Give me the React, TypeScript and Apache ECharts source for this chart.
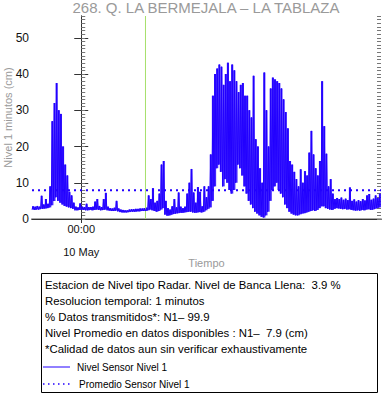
import React, { useEffect, useRef } from "react";
import * as echarts from "echarts";

const TITLE = "268. Q. LA BERMEJALA – LA TABLAZA";
const Y_NAME = "Nivel 1 minutos (cm)";
const X_NAME = "Tiempo";

// hours relative to 00:00 10 May; one sample every 10 minutes
const START_HOUR = -23 / 6;
const STEP_HOUR = 1 / 6;

// per-10-minute maximum of the 1-minute level (cm)
const levelHigh = [
  3.5, 3.4, 3.6, 3.4, 6.4, 4.0, 5.5, 4.2, 9.0, 27, 32, 37.5, 30, 29, 20, 15, 12, 7.5, 6.5, 4.5,
  3.4, 3.2, 4.3, 3.4, 3.3, 4.2, 3.3, 3.3, 3.4, 4.8, 5.5, 3.6, 3.3, 5.5, 7.2, 3.4, 3.0, 2.9, 3.1, 5.0,
  2.9, 2.6, 2.5, 2.4, 2.4, 2.6, 2.7, 2.7, 2.8, 2.8, 2.9, 2.9, 3.0, 3.1, 6.5, 5.5, 8.5, 4.5, 5.0, 7.0,
  15, 16, 5.0, 3.0, 2.6, 3.5, 5.5, 3.2, 7.3, 3.4, 3.0, 3.4, 7.0, 10, 13.8, 7.3, 4.5, 8.8, 7.5, 3.5,
  9.0, 6.0, 9.0, 17.8, 34, 40, 41.5, 42.6, 42, 37, 40, 43.1, 38, 42.6, 41, 38, 35, 37, 37.5, 34,
  34, 30, 28, 39.5, 22, 20, 14, 10, 40.4, 30, 20, 36, 39, 38.5, 38, 37.5, 36, 33, 29.5, 25,
  16, 15, 13, 11, 9, 13.7, 10, 13.2, 12, 18.3, 24.3, 17.8, 14, 12, 16, 38, 25.6, 18, 9, 11,
  7, 5.5, 5.8, 5.5, 5.9, 5.3, 5.6, 5.2, 8.7, 5.0, 5.4, 4.8, 5.2, 4.9, 5.5, 5.1, 6.5, 6.9, 5.3, 5.6,
  6.5, 5.8, 7.0,
];

// per-10-minute minimum of the 1-minute level (cm)
const levelLow = [
  2.6, 2.5, 2.6, 2.6, 2.8, 2.8, 2.9, 3.0, 3.2, 3.8, 5, 6, 5, 4.5, 4, 3.6, 3.4, 3.2, 3.0, 2.8,
  2.4, 2.4, 2.5, 2.5, 2.5, 2.4, 2.4, 2.5, 2.4, 2.5, 2.6, 2.5, 2.4, 2.5, 2.6, 2.4, 2.3, 2.2, 2.2, 2.3,
  2.1, 1.9, 1.8, 1.8, 1.8, 1.9, 2.0, 2.0, 2.0, 2.1, 2.1, 2.2, 2.2, 2.2, 2.4, 2.6, 2.4, 2.2, 2.0, 2.2,
  2.6, 3.0, 1.2, 0.9, 1.0, 1.2, 1.4, 1.5, 1.6, 1.7, 1.7, 1.8, 1.9, 2.0, 2.0, 1.8, 1.7, 1.8, 1.9, 1.8,
  2.0, 2.4, 2.8, 3.2, 5, 9, 14, 15, 13, 9, 11, 10, 8, 7, 8, 10, 15, 14, 12, 9,
  7, 5, 4, 3, 2, 1.5, 1.0, 0.6, 0.4, 1.0, 2, 5, 8, 9, 10, 8, 7, 6, 4, 3,
  2, 1.5, 1.2, 1.0, 1.0, 1.3, 1.5, 1.6, 1.8, 2.0, 2.2, 2.4, 2.2, 2.5, 3, 3.5, 3.5, 3.0, 2.8, 2.6,
  2.5, 2.8, 3.0, 2.9, 2.8, 2.7, 2.8, 2.6, 2.7, 2.5, 2.4, 2.3, 2.4, 2.3, 2.5, 2.4, 2.6, 2.7, 2.5, 2.6,
  2.8, 3.0, 3.2,
];

const MEAN_LEVEL = 7.9;
const MARKER_HOUR = 5.0;
const Y_MIN = 0;
const Y_MAX = 56;
const Y_LABEL_VALUES = [0, 10, 20, 30, 40, 50];
const X_TICK_HOURS = [0];
const X_TIME_LABELS = ["00:00"];
const X_DATE_LABELS = ["10 May"];

const INFO_LINES = [
  "Estacion de Nivel tipo Radar. Nivel de Banca Llena:  3.9 %",
  "Resolucion temporal: 1 minutos",
  "% Datos transmitidos*: N1– 99.9",
  "Nivel Promedio en datos disponibles : N1–  7.9 (cm)",
  "*Calidad de datos aun sin verificar exhaustivamente",
];
const LEGEND_LABELS = ["Nivel Sensor Nivel 1", "Promedio Sensor Nivel 1"];

const BLUE = "#2200ff";
const GREEN = "#a6e06a";
const FONT = "'Liberation Sans', Arial, Helvetica, sans-serif";

export default function App() {
  const ref = useRef<HTMLDivElement>(null);

  useEffect(() => {
    if (!ref.current) return;
    const chart = echarts.init(ref.current, undefined, { renderer: "svg" });

    const xMin = START_HOUR;
    const xMax = START_HOUR + levelHigh.length * STEP_HOUR;

    const zig: [number, number][] = [];
    const band: [number, number, number][] = [];
    for (let i = 0; i < levelHigh.length; i++) {
      const t = START_HOUR + i * STEP_HOUR;
      zig.push([t, levelLow[i]]);
      zig.push([t + STEP_HOUR / 2, levelHigh[i]]);
      band.push([t, levelLow[i], levelHigh[i]]);
    }

    const minorTicks: number[] = [];
    for (let v = Y_MIN; v <= Y_MAX; v++) minorTicks.push(v);

    const xFmt = (labels: string[]) => (v: number) => {
      const k = X_TICK_HOURS.findIndex((h) => Math.abs(h - v) < 1e-6);
      return k >= 0 ? labels[k] : "";
    };

    const axisCol = "#333";
    const baseX = {
      type: "value" as const,
      gridIndex: 0,
      min: xMin,
      max: xMax,
      splitLine: { show: false },
    };
    const baseY = {
      type: "value" as const,
      gridIndex: 0,
      min: Y_MIN,
      max: Y_MAX,
      splitLine: { show: false },
    };

    const infoTop = 285;
    const lineGap = 16;
    const infoFont = 11.4;
    const tickFont = 11;

    chart.setOption({
      animation: false,
      backgroundColor: "#fff",
      textStyle: { fontFamily: FONT },
      title: {
        text: TITLE,
        left: 206,
        textAlign: "center",
        top: 0,
        padding: 0,
        textStyle: { color: "#9a9a9a", fontSize: 15, fontWeight: "normal", fontFamily: FONT },
      },
      grid: { left: 32, right: 1, top: 16, bottom: 185, containLabel: false, outerBoundsMode: "none" },
      xAxis: [
        {
          ...baseX,
          position: "bottom",
          axisLine: { show: true, lineStyle: { color: axisCol, width: 1 } },
          axisTick: { show: true, inside: true, length: 4, customValues: X_TICK_HOURS, lineStyle: { color: axisCol } },
          axisLabel: {
            show: true,
            customValues: X_TICK_HOURS,
            formatter: xFmt(X_TIME_LABELS),
            margin: 4,
            color: "#111",
            fontSize: tickFont,
            fontFamily: FONT,
          },
        },
        {
          ...baseX,
          position: "bottom",
          offset: 22,
          name: X_NAME,
          nameLocation: "middle",
          nameGap: 16,
          nameMoveOverlap: false,
          nameTextStyle: { color: "#9a9a9a", fontSize: 11, fontFamily: FONT },
          axisLine: { show: true, lineStyle: { color: "#aaaaaa", width: 2 } },
          axisTick: { show: true, inside: false, length: 4, customValues: X_TICK_HOURS, lineStyle: { color: axisCol } },
          axisLabel: {
            show: true,
            customValues: X_TICK_HOURS,
            formatter: xFmt(X_DATE_LABELS),
            margin: 5,
            color: "#111",
            fontSize: tickFont,
            fontFamily: FONT,
          },
        },
        {
          ...baseX,
          position: "top",
          axisLine: { show: true, lineStyle: { color: axisCol, width: 1 } },
          axisTick: { show: true, inside: true, length: 4, customValues: X_TICK_HOURS, lineStyle: { color: axisCol } },
          axisLabel: { show: false },
        },
      ],
      yAxis: [
        {
          ...baseY,
          position: "left",
          name: Y_NAME,
          nameLocation: "middle",
          nameGap: 19,
          nameMoveOverlap: false,
          nameTextStyle: { color: "#9a9a9a", fontSize: 11, fontFamily: FONT },
          axisLine: { show: true, lineStyle: { color: axisCol, width: 1 } },
          axisTick: { show: true, inside: true, length: 7, customValues: Y_LABEL_VALUES, lineStyle: { color: axisCol } },
          axisLabel: { show: true, customValues: Y_LABEL_VALUES, margin: 3, color: "#111", fontSize: 12, fontFamily: FONT },
        },
        {
          ...baseY,
          position: "left",
          axisLine: { show: false },
          axisTick: { show: true, inside: true, length: 4, customValues: minorTicks, lineStyle: { color: "#777" } },
          axisLabel: { show: false },
        },
        {
          ...baseY,
          position: "right",
          axisLine: { show: true, lineStyle: { color: axisCol, width: 1 } },
          axisTick: { show: true, inside: true, length: 7, customValues: Y_LABEL_VALUES, lineStyle: { color: axisCol } },
          axisLabel: { show: false },
        },
        {
          ...baseY,
          position: "right",
          axisLine: { show: false },
          axisTick: { show: true, inside: true, length: 4, customValues: minorTicks, lineStyle: { color: "#777" } },
          axisLabel: { show: false },
        },
      ],
      series: [
        {
          type: "line",
          xAxisIndex: 0,
          yAxisIndex: 0,
          data: [
            [MARKER_HOUR, Y_MIN],
            [MARKER_HOUR, Y_MAX],
          ],
          showSymbol: false,
          symbol: "none",
          lineStyle: { color: GREEN, width: 1 },
          silent: true,
        },
        {
          type: "custom",
          xAxisIndex: 0,
          yAxisIndex: 0,
          data: band,
          silent: true,
          encode: { x: 0, y: [1, 2] },
          renderItem: (params: any, api: any) => {
            const t = api.value(0);
            const p0 = api.coord([t, api.value(1)]);
            const p1 = api.coord([t + STEP_HOUR, api.value(2)]);
            return {
              type: "rect",
              shape: { x: p0[0], y: p1[1], width: p1[0] - p0[0], height: p0[1] - p1[1] },
              style: { fill: BLUE, opacity: 0.85 },
            };
          },
        },
        {
          type: "line",
          name: LEGEND_LABELS[0],
          xAxisIndex: 0,
          yAxisIndex: 0,
          data: zig,
          showSymbol: false,
          symbol: "none",
          lineStyle: { color: BLUE, width: 1 },
          silent: true,
        },
        {
          type: "line",
          name: LEGEND_LABELS[1],
          xAxisIndex: 0,
          yAxisIndex: 0,
          data: [
            [xMin, MEAN_LEVEL],
            [xMax, MEAN_LEVEL],
          ],
          showSymbol: false,
          symbol: "none",
          lineStyle: { color: BLUE, width: 2, type: [2, 4] },
          silent: true,
        },
      ],
      graphic: [
        {
          type: "rect",
          shape: { x: 41.5, y: 273.5, width: 336, height: 119 },
          style: { fill: "#fff", stroke: "#000", lineWidth: 1 },
          z: 10,
        },
        ...INFO_LINES.map((t, k) => ({
          type: "text",
          x: 45,
          y: infoTop + k * lineGap,
          style: { text: t, fill: "#000", fontSize: infoFont, fontFamily: FONT, textVerticalAlign: "middle" },
          z: 11,
        })),
        {
          type: "line",
          shape: { x1: 43, y1: 367, x2: 70, y2: 367 },
          style: { stroke: BLUE, lineWidth: 1 },
          z: 11,
        },
        {
          type: "text",
          x: 77,
          y: 367,
          style: { text: LEGEND_LABELS[0], fill: "#000", fontSize: 10, fontFamily: FONT, textVerticalAlign: "middle" },
          z: 11,
        },
        {
          type: "line",
          shape: { x1: 43, y1: 384, x2: 70, y2: 384 },
          style: { stroke: BLUE, lineWidth: 1.5, lineDash: [1.5, 3.5] },
          z: 11,
        },
        {
          type: "text",
          x: 79,
          y: 384,
          style: { text: LEGEND_LABELS[1], fill: "#000", fontSize: 10, fontFamily: FONT, textVerticalAlign: "middle" },
          z: 11,
        },
      ],
    });

    return () => chart.dispose();
  }, []);

  return (
    <div
      ref={ref}
      style={{ position: "absolute", left: 0, top: 0, width: 382, height: 404, background: "#fff" }}
    />
  );
}
